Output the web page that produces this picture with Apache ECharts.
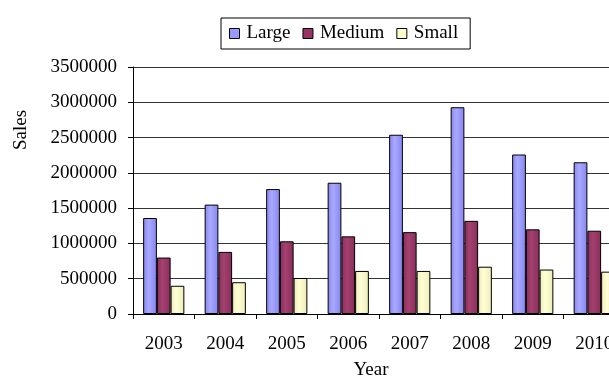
<!DOCTYPE html>
<html>
<head>
<meta charset="utf-8">
<script src="https://cdn.jsdelivr.net/npm/echarts@6/dist/echarts.min.js"></script>
<style>
  html, body { margin: 0; padding: 0; background: #fff; }
  #chart { width: 609px; height: 376px; }
</style>
</head>
<body>
<div id="chart"></div>
<script>
// Annual sales by company size
const years = ['2003', '2004', '2005', '2006', '2007', '2008', '2009', '2010'];
const large  = [1360000, 1550000, 1770000, 1860000, 2540000, 2930000, 2260000, 2150000];
const medium = [800000, 880000, 1030000, 1100000, 1160000, 1320000, 1200000, 1180000];
const small  = [400000, 450000, 510000, 610000, 610000, 670000, 630000, 600000];

const FONT = '"Liberation Serif", "Times New Roman", serif';

// Horizontal shading across each bar: darker edges, lighter middle
function shade(edge, mid) {
  return new echarts.graphic.LinearGradient(0, 0, 1, 0, [
    { offset: 0, color: edge },
    { offset: 0.4, color: mid },
    { offset: 1, color: edge }
  ]);
}

const barStyle = { borderColor: '#000', borderWidth: 1 };

const chart = echarts.init(document.getElementById('chart'), null, { renderer: 'canvas' });
chart.setOption({
  animation: false,
  backgroundColor: '#fff',
  textStyle: { fontFamily: FONT, color: '#000' },
  legend: {
    left: 221,
    top: 18,
    padding: [6, 12, 6, 8],
    itemWidth: 10,
    itemHeight: 10,
    itemGap: 12,
    borderColor: '#000',
    borderWidth: 1,
    icon: 'rect',
    textStyle: { fontFamily: FONT, fontSize: 19, color: '#000', padding: [0, 0, 0, 2] },
    data: [
      { name: 'Large', itemStyle: { color: '#9999ff', borderColor: '#000', borderWidth: 1 } },
      { name: 'Medium', itemStyle: { color: '#993366', borderColor: '#000', borderWidth: 1 } },
      { name: 'Small', itemStyle: { color: '#ffffcc', borderColor: '#000', borderWidth: 1 } }
    ]
  },
  // The plot area runs past the right edge of the canvas, so the last column is cut off
  grid: { left: 133, top: 67, right: -16, bottom: 62, containLabel: false, outerBoundsMode: 'none' },
  xAxis: {
    type: 'category',
    data: years,
    name: 'Year',
    nameLocation: 'middle',
    nameGap: 47,
    nameTextStyle: { fontFamily: FONT, fontSize: 19, color: '#000', padding: [0, 16, 0, 0] },
    axisLine: { lineStyle: { color: '#000', width: 1 } },
    axisTick: { show: true, length: 5, inside: false, lineStyle: { color: '#000' } },
    axisLabel: { fontFamily: FONT, fontSize: 19, color: '#000', margin: 21 }
  },
  yAxis: {
    type: 'value',
    min: 0,
    max: 3500000,
    interval: 500000,
    axisLine: { show: true, lineStyle: { color: '#000', width: 1 } },
    axisTick: { show: true, length: 5, lineStyle: { color: '#000' } },
    axisLabel: {
      fontFamily: FONT, fontSize: 19, color: '#000', margin: 16,
      formatter: function (v) { return String(v); }
    },
    splitLine: { show: true, lineStyle: { color: '#333', width: 1 } }
  },
  graphic: [{
    type: 'text',
    x: 21,
    y: 130,
    rotation: Math.PI / 2,
    style: {
      text: 'Sales',
      fontFamily: FONT,
      fontSize: 19,
      fill: '#000',
      textAlign: 'center',
      textVerticalAlign: 'middle'
    }
  }],
  series: [
    {
      name: 'Large', type: 'bar', data: large,
      barGap: '0%', barCategoryGap: '33%',
      itemStyle: Object.assign({ color: shade('#8585f0', '#a9a9ff') }, barStyle)
    },
    {
      name: 'Medium', type: 'bar', data: medium,
      barGap: '0%', barCategoryGap: '33%',
      itemStyle: Object.assign({ color: shade('#8a2d5b', '#a4416f') }, barStyle)
    },
    {
      name: 'Small', type: 'bar', data: small,
      barGap: '0%', barCategoryGap: '33%',
      itemStyle: Object.assign({ color: shade('#ececb8', '#ffffd4') }, barStyle)
    }
  ]
});
</script>
</body>
</html>
